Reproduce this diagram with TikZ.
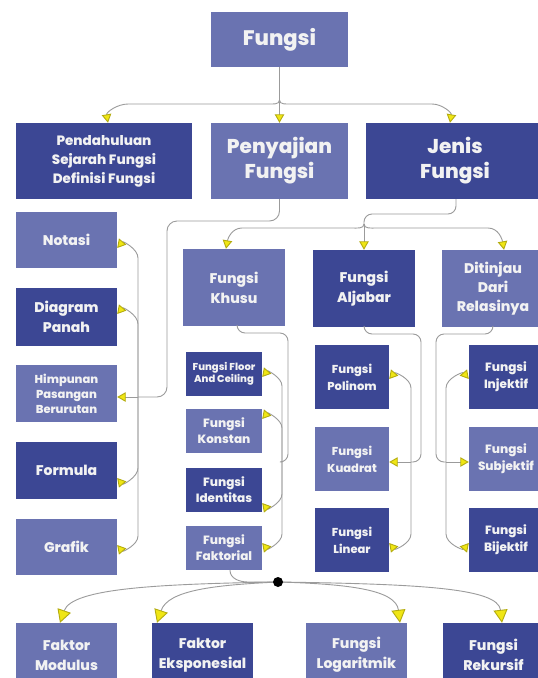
\documentclass[tikz,border=0pt]{standalone}
\usepackage{fontspec}
\setmainfont{Poppins}[BoldFont={* ExtraBold}]
\usetikzlibrary{arrows.meta}
\definecolor{boxdark}{RGB}{60,71,148}
\definecolor{boxlight}{RGB}{106,115,177}
\definecolor{tipyellow}{RGB}{240,230,20}
\definecolor{wire}{RGB}{155,155,155}
\newcommand\fsz[2]{\bfseries\fontsize{#1}{#2}\selectfont}

\begin{document}
\begin{tikzpicture}[x=1pt,y=1pt,
  box/.style={rectangle, inner sep=0pt, align=center, text=white!95!black},
  dark/.style={box, fill=boxdark},
  light/.style={box, fill=boxlight},
  wide/.style={minimum width=101pt},
  wire/.style={draw=wire, line width=0.9pt},
  tip/.style={wire, -{Triangle[length=8.5pt,width=9.5pt,color=tipyellow!75!black,fill=tipyellow]}},
  bigtip/.style={wire, -{Triangle[length=13pt,width=14pt,color=tipyellow!75!black,fill=tipyellow]}}
]
\useasboundingbox (0,0) rectangle (538,-678);
\fill[white] (0,0) rectangle (538,-678);

% ---- top levels
\node[light, minimum width=137pt, minimum height=55pt, font=\fsz{21}{25}] (fungsi) at (279.5,-39.5) {Fungsi};
\node[dark, minimum width=176pt, minimum height=76pt, font=\fsz{13.5}{19}] (pend) at (104,-161) {Pendahuluan\\Sejarah Fungsi\\Definisi Fungsi};
\node[light, minimum width=137pt, minimum height=76pt, font=\fsz{20}{25}] (peny) at (279.5,-161) {Penyajian\\Fungsi};
\node[dark, minimum width=178pt, minimum height=76pt, font=\fsz{20}{25}] (jenis) at (455,-161) {Jenis\\Fungsi};

% ---- left column
\node[light, wide, minimum height=56pt, font=\fsz{14}{18}] (notasi) at (66.5,-240) {Notasi};
\node[dark, wide, minimum height=58pt, font=\fsz{14}{20}] (diagram) at (66.5,-317) {Diagram\\Panah};
\node[light, wide, minimum height=57pt, font=\fsz{11.5}{15}] (himp) at (66.5,-393.5) {Himpunan\\Pasangan\\Berurutan};
\node[dark, wide, minimum height=57pt, font=\fsz{14}{18}] (formula) at (66.5,-470.5) {Formula};
\node[light, wide, minimum height=56pt, font=\fsz{14}{18}] (grafik) at (66.5,-547) {Grafik};

% ---- third level
\node[light, minimum width=102pt, minimum height=77pt, font=\fsz{14}{20}] (khusu) at (234,-287.5) {Fungsi\\Khusu};
\node[dark, minimum width=102pt, minimum height=77pt, font=\fsz{14}{20}] (aljabar) at (364,-288.5) {Fungsi\\Aljabar};
\node[light, minimum width=102pt, minimum height=77pt, font=\fsz{14}{19}] (ditinjau) at (493,-288.5) {Ditinjau\\Dari\\Relasinya};

% ---- special functions
\node[dark, minimum width=76pt, minimum height=44pt, font=\fsz{10}{12.5}] (floor) at (224,-374) {Fungsi Floor\\And Ceiling};
\node[light, minimum width=76pt, minimum height=44pt, font=\fsz{12}{16}] (konstan) at (224,-431) {Fungsi\\Konstan};
\node[dark, minimum width=76pt, minimum height=44pt, font=\fsz{12}{16}] (identitas) at (224,-490) {Fungsi\\Identitas};
\node[light, minimum width=76pt, minimum height=44pt, font=\fsz{12}{16}] (faktorial) at (224,-548) {Fungsi\\Faktorial};

% ---- algebraic functions
\node[dark, minimum width=74pt, minimum height=64pt, font=\fsz{11.5}{17}] (polinom) at (352,-377) {Fungsi\\Polinom};
\node[light, minimum width=74pt, minimum height=64pt, font=\fsz{11.5}{17}] (kuadrat) at (352,-459) {Fungsi\\Kuadrat};
\node[dark, minimum width=74pt, minimum height=64pt, font=\fsz{11.5}{17}] (linear) at (352,-540) {Fungsi\\Linear};

% ---- by relation
\node[dark, minimum width=74pt, minimum height=64pt, font=\fsz{12}{17}] (injektif) at (506,-377) {Fungsi\\Injektif};
\node[light, minimum width=74pt, minimum height=64pt, font=\fsz{12}{17}] (subjektif) at (506,-459) {Fungsi\\Subjektif};
\node[dark, minimum width=74pt, minimum height=64pt, font=\fsz{12}{17}] (bijektif) at (506,-540) {Fungsi\\Bijektif};

% ---- bottom row
\node[light, wide, minimum height=64pt, font=\fsz{14}{20}] (modulus) at (66.5,-655) {Faktor\\Modulus};
\node[dark, wide, minimum height=64pt, font=\fsz{14}{20}] (ekspo) at (202.5,-655) {Faktor\\Eksponesial};
\node[light, wide, minimum height=64pt, font=\fsz{14}{20}] (loga) at (356.5,-655) {Fungsi\\Logaritmik};
\node[dark, wide, minimum height=64pt, font=\fsz{14}{20}] (rekur) at (493.5,-655) {Fungsi\\Rekursif};

% ---- junction points
\coordinate (j0) at (279.5,-100);
\coordinate (j1) at (138,-397);
\coordinate (j2) at (364,-224);
\coordinate (j3) at (282,-462);
\coordinate (j4) at (411,-462);
\coordinate (j5) at (446,-462);
\coordinate (dot) at (278,-582);

% ---- Fungsi -> first level
\draw[wire] (fungsi.south) -- (j0);
\draw[tip] (j0) to[out=-90,in=0] (268,-104) -- (128,-104) to[out=180,in=100] (pend.north -| 108,0);
\draw[tip] (j0) -- (peny.north);
\draw[tip] (j0) to[out=-90,in=180] (291,-104) -- (432,-104) to[out=0,in=80] (jenis.north -| 450,0);

% ---- Penyajian -> representations
\draw[wire, rounded corners=10pt] (peny.south) |- (167,-221) |- (j1);
\draw[tip] (j1) -- (138,-258) to[out=90,in=50] (notasi.east |- 0,-248);
\draw[tip] (j1) -- (138,-324) to[out=90,in=50] (diagram.east |- 0,-314);
\draw[tip] (j1) -- (himp.east |- j1);
\draw[tip] (j1) -- (138,-468) to[out=-90,in=-50] (formula.east |- 0,-478);
\draw[tip] (j1) -- (138,-536) to[out=-90,in=-50] (grafik.east |- 0,-545);

% ---- Jenis -> kinds
\draw[wire, rounded corners=8pt] (456,-199) |- (364,-214) -- (j2);
\draw[tip] (j2) to[out=-90,in=0] (352,-228) -- (242,-228) to[out=180,in=80] (khusu.north -| 226,0);
\draw[tip] (j2) -- (aljabar.north);
\draw[tip] (j2) to[out=-90,in=180] (376,-228) -- (488,-228) to[out=0,in=100] (ditinjau.north -| 504,0);

% ---- Fungsi Khusu -> members
\draw[wire, rounded corners=8pt] (237,-326) |- (288,-333) |- (j3);
\draw[tip] (j3) -- (282,-386) to[out=90,in=50] (floor.east |- 0,-377);
\draw[tip] (j3) -- (282,-428) to[out=90,in=50] (konstan.east |- 0,-419);
\draw[tip] (j3) -- (282,-494) to[out=-90,in=-50] (identitas.east |- 0,-503);
\draw[tip] (j3) -- (282,-534) to[out=-90,in=-50] (faktorial.east |- 0,-543);

% ---- Fungsi Aljabar -> members
\draw[wire, rounded corners=8pt] (aljabar.south) |- (421,-334) |- (j4);
\draw[tip] (j4) -- (411,-388) to[out=90,in=50] (polinom.east |- 0,-379);
\draw[tip] (j4) -- (kuadrat.east |- j4);
\draw[tip] (j4) -- (411,-534) to[out=-90,in=-50] (linear.east |- 0,-543);

% ---- Ditinjau -> members
\draw[wire, rounded corners=8pt] (ditinjau.south) |- (436,-334) |- (j5);
\draw[tip] (j5) -- (446,-388) to[out=90,in=130] (injektif.west |- 0,-379);
\draw[tip] (j5) -- (subjektif.west |- j5);
\draw[tip] (j5) -- (446,-534) to[out=-90,in=-130] (bijektif.west |- 0,-543);

% ---- bottom row
\draw[wire] (faktorial.south -| 230,0) to[out=-90,in=180] (248,-582) -- (dot);
\draw[bigtip] (dot) .. controls (160,-584) and (72,-588) .. (modulus.north -| 60,0);
\draw[bigtip] (dot) .. controls (215,-585) and (168,-590) .. (ekspo.north -| 157,0);
\draw[bigtip] (dot) .. controls (350,-584) and (396,-590) .. (loga.north -| 400,0);
\draw[bigtip] (dot) .. controls (420,-584) and (498,-588) .. (rekur.north -| 502,0);
\fill[black] (dot) circle (5pt);
\end{tikzpicture}
\end{document}
